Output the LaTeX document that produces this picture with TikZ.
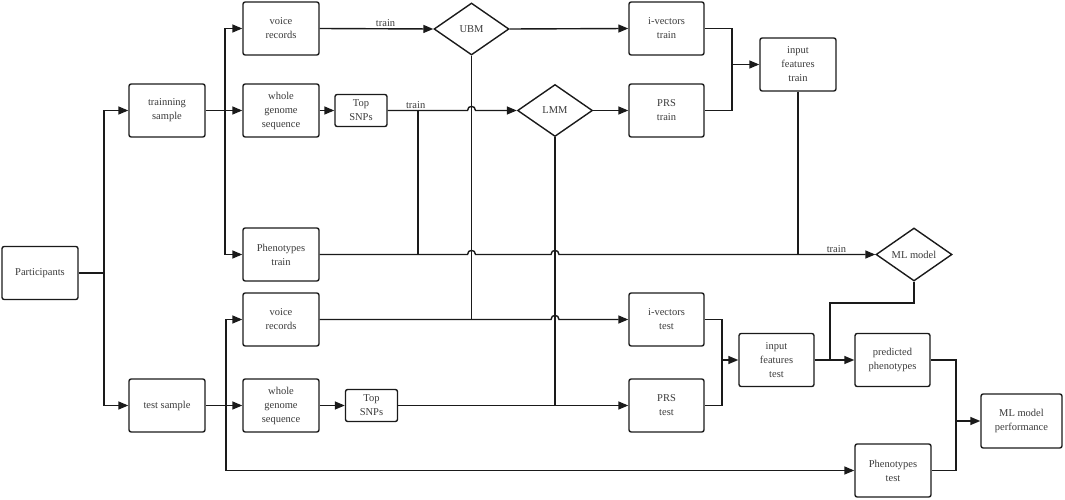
\documentclass[tikz,border=0pt]{standalone}
\usepackage{fontspec}
\setmainfont{Liberation Serif}
\usetikzlibrary{arrows.meta,shapes.geometric}
\definecolor{txt}{HTML}{3A3A3A}
\definecolor{ink}{HTML}{1A1A1A}
\begin{document}
\begin{tikzpicture}[x=1pt,y=-1pt,
  every node/.style={font=\fontsize{10.5}{14}\selectfont, text=txt},
  box/.style={draw=ink, line width=1.4pt, rounded corners=2.2pt, minimum width=76pt, minimum height=53pt, align=center, inner sep=1pt},
  sbox/.style={box, minimum width=52pt, minimum height=32pt},
  dia/.style={draw=ink, line width=1.4pt, diamond, aspect=1.45, minimum width=75pt, minimum height=52pt, inner sep=0pt, align=center},
  ln/.style={draw=ink, line width=1.4pt},
  arr/.style={ln, -{Triangle[length=10pt,width=8pt]}},
  lbl/.style={above, inner sep=1.5pt}
]
\useasboundingbox (0,0) rectangle (1065,500);
% nodes
\node[box] (part) at (40,273) {Participants};
\node[box] (trs) at (167,110.5) {trainning\\sample};
\node[box] (tes) at (167,405.5) {test sample};
\node[box] (vtr) at (281,28.5) {voice\\records};
\node[box] (wtr) at (281,110.5) {whole\\genome\\sequence};
\node[sbox] (str) at (361,110.5) {Top\\SNPs};
\node[box] (ptr) at (281,254.5) {Phenotypes\\train};
\node[box] (vte) at (281,319.5) {voice\\records};
\node[box] (wte) at (281,405.5) {whole\\genome\\sequence};
\node[sbox] (ste) at (371.5,405.5) {Top\\SNPs};
\node[dia] (ubm) at (471.5,29) {UBM};
\node[dia] (lmm) at (555,110.5) {LMM};
\node[box, minimum width=75pt] (itr) at (666.5,28.5) {i-vectors\\train};
\node[box, minimum width=75pt] (prtr) at (666.5,110.5) {PRS\\train};
\node[box] (ift) at (798,64.5) {input\\features\\train};
\node[dia, minimum width=76pt, minimum height=53pt] (ml) at (914,254.5) {ML model};
\node[box, minimum width=75pt] (ite) at (666.5,319.5) {i-vectors\\test};
\node[box, minimum width=75pt] (prte) at (666.5,405.5) {PRS\\test};
\node[box, minimum width=75pt] (ifte) at (776.5,360) {input\\features\\test};
\node[box, minimum width=75pt] (pp) at (892.5,360) {predicted\\phenotypes};
\node[box] (pte) at (893,470.5) {Phenotypes\\test};
\node[box, minimum width=81pt, minimum height=54pt] (perf) at (1021.5,421) {ML model\\performance};
% junction coordinates
\coordinate (pj) at (104,273);
\coordinate (tj) at (225,110.5);
\coordinate (sj) at (226,405.5);
\coordinate (snpj) at (418,110.5);
\coordinate (phj) at (418,254.5);
\coordinate (ifj) at (798,254.5);
\coordinate (ubmj) at (471.5,319.5);
\coordinate (lmmj) at (555,405.5);
\coordinate (brtr) at (732,64.5);
\coordinate (brte) at (722,360);
\coordinate (mlj) at (830,303);
\coordinate (mlj2) at (830,360);
\coordinate (brpf) at (956,421);
% left fan
\draw[ln] (part.east) -- (pj);
\draw[arr] (pj) |- (trs.west);
\draw[arr] (pj) |- (tes.west);
\draw[arr] (trs.east) -- (wtr.west);
\draw[arr] (tj) |- (vtr.west);
\draw[arr] (tj) |- (ptr.west);
\draw[arr] (tes.east) -- (wte.west);
\draw[arr] (sj) |- (vte.west);
\draw[arr] (sj) |- (pte.west);
% training branch
\draw[arr] (vtr.east) -- node[lbl, pos=0.58]{train} (ubm.west);
\draw[arr] (ubm.east) -- (itr.west);
\draw[arr] (wtr.east) -- (str.west);
\draw[arr] (str.east) -- node[lbl, pos=0.35]{train} (467.5,110.5) .. controls (467.5,105) and (475.5,105) .. (475.5,110.5) -- (lmm.west);
\draw[ln] (snpj) -- (phj);
\draw[arr] (lmm.east) -- (prtr.west);
\draw[ln] (itr.east) -| (732,110.5) -- (prtr.east);
\draw[arr] (brtr) -- (ift.west);
\draw[ln] (ift.south) -- (ifj);
\draw[arr] (ptr.east) -- (467.5,254.5) .. controls (467.5,249) and (475.5,249) .. (475.5,254.5)
  -- (551,254.5) .. controls (551,249) and (559,249) .. (559,254.5)
  -- node[lbl, pos=0.877]{train} (ml.west);
\draw[ln] (ubm.south) -- (ubmj);
\draw[ln] (lmm.south) -- (lmmj);
% test branch
\draw[arr] (vte.east) -- (551,319.5) .. controls (551,314) and (559,314) .. (559,319.5) -- (ite.west);
\draw[arr] (wte.east) -- (ste.west);
\draw[arr] (ste.east) -- (prte.west);
\draw[ln] (ite.east) -| (722,405.5) -- (prte.east);
\draw[arr] (brte) -- (ifte.west);
\draw[arr] (ifte.east) -- (pp.west);
\draw[ln] (ml.south) |- (mlj) -- (mlj2);
\draw[ln] (pp.east) -| (956,470.5) -- (pte.east);
\draw[arr] (brpf) -- (perf.west);
\end{tikzpicture}
\end{document}
